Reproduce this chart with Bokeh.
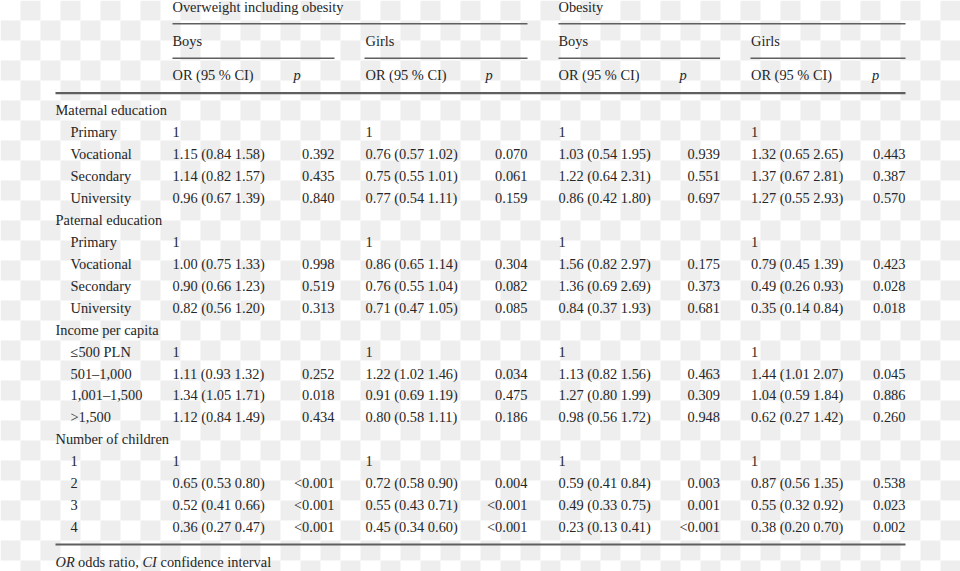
from bokeh.plotting import figure
from bokeh.models import ColumnDataSource, Range1d
from bokeh.core.properties import value
from bokeh.embed import file_html
from bokeh.resources import INLINE
import numpy as np

# ---------------- data ----------------
groups = ["Maternal education", "Paternal education", "Income per capita", "Number of children"]
levels = [
    ["Primary", "Vocational", "Secondary", "University"],
    ["Primary", "Vocational", "Secondary", "University"],
    ["\u2264500 PLN", "501\u20131,000", "1,001\u20131,500", ">1,500"],
    ["1", "2", "3", "4"],
]
outcomes = ["Overweight including obesity", "Obesity"]
sexes = ["Boys", "Girls"]
col_head_or = "OR (95 % CI)"
col_head_p = "p"

ow_boys_or = ["1", "1.15 (0.84 1.58)", "1.14 (0.82 1.57)", "0.96 (0.67 1.39)",
              "1", "1.00 (0.75 1.33)", "0.90 (0.66 1.23)", "0.82 (0.56 1.20)",
              "1", "1.11 (0.93 1.32)", "1.34 (1.05 1.71)", "1.12 (0.84 1.49)",
              "1", "0.65 (0.53 0.80)", "0.52 (0.41 0.66)", "0.36 (0.27 0.47)"]
ow_boys_p = ["", "0.392", "0.435", "0.840",
             "", "0.998", "0.519", "0.313",
             "", "0.252", "0.018", "0.434",
             "", "<0.001", "<0.001", "<0.001"]
ow_girls_or = ["1", "0.76 (0.57 1.02)", "0.75 (0.55 1.01)", "0.77 (0.54 1.11)",
               "1", "0.86 (0.65 1.14)", "0.76 (0.55 1.04)", "0.71 (0.47 1.05)",
               "1", "1.22 (1.02 1.46)", "0.91 (0.69 1.19)", "0.80 (0.58 1.11)",
               "1", "0.72 (0.58 0.90)", "0.55 (0.43 0.71)", "0.45 (0.34 0.60)"]
ow_girls_p = ["", "0.070", "0.061", "0.159",
              "", "0.304", "0.082", "0.085",
              "", "0.034", "0.475", "0.186",
              "", "0.004", "<0.001", "<0.001"]
ob_boys_or = ["1", "1.03 (0.54 1.95)", "1.22 (0.64 2.31)", "0.86 (0.42 1.80)",
              "1", "1.56 (0.82 2.97)", "1.36 (0.69 2.69)", "0.84 (0.37 1.93)",
              "1", "1.13 (0.82 1.56)", "1.27 (0.80 1.99)", "0.98 (0.56 1.72)",
              "1", "0.59 (0.41 0.84)", "0.49 (0.33 0.75)", "0.23 (0.13 0.41)"]
ob_boys_p = ["", "0.939", "0.551", "0.697",
             "", "0.175", "0.373", "0.681",
             "", "0.463", "0.309", "0.948",
             "", "0.003", "0.001", "<0.001"]
ob_girls_or = ["1", "1.32 (0.65 2.65)", "1.37 (0.67 2.81)", "1.27 (0.55 2.93)",
               "1", "0.79 (0.45 1.39)", "0.49 (0.26 0.93)", "0.35 (0.14 0.84)",
               "1", "1.44 (1.01 2.07)", "1.04 (0.59 1.84)", "0.62 (0.27 1.42)",
               "1", "0.87 (0.56 1.35)", "0.55 (0.32 0.92)", "0.38 (0.20 0.70)"]
ob_girls_p = ["", "0.443", "0.387", "0.570",
              "", "0.423", "0.028", "0.018",
              "", "0.045", "0.886", "0.260",
              "", "0.538", "0.023", "0.002"]

footnote = [("OR", "italic"), ("odds ratio,", "normal"), ("CI", "italic"), ("confidence interval", "normal")]

# ---------------- layout constants ----------------
W, H = 960, 571
FONT = value("Liberation Serif")
FS = "14.4px"
TXT = "#262626"
LINE = "#5f5f5f"
ROW0, ROWH = 109.6, 21.95
X_GROUP, X_LEVEL = 55, 70
OR_X = [172, 365, 558, 750.5]
P_RIGHT = [334, 527, 719.5, 905]
P_HEAD_X = [293, 485, 679, 871.5]
HEAD_Y = [6.5, 40.0, 74.5]
FOOT_X = [55, 77.5, 142, 160]
FOOT_Y = 561.5

p = figure(width=W, height=H, x_range=Range1d(0, W), y_range=Range1d(H, 0),
           toolbar_location=None, output_backend="svg", min_border=0,
           x_axis_location=None, y_axis_location=None,
           background_fill_color="white", border_fill_color="white",
           outline_line_color=None)
p.grid.visible = False

# checkerboard background
cols = int(np.ceil(W / 20)); rows = int(np.ceil(H / 20))
ii, jj = np.meshgrid(np.arange(cols), np.arange(rows))
mask = ((ii + jj) % 2 == 1).ravel()
li = ii.ravel()[mask] * 20; tj = jj.ravel()[mask] * 20
p.quad(left=li, right=li + 20, top=tj, bottom=tj + 20, fill_color="#eeeeee", line_color=None)

def txt(xs, ys, ts, align="left", style="normal"):
    src = ColumnDataSource(dict(x=xs, y=ys, t=ts))
    p.text(x="x", y="y", text="t", source=src, text_font=FONT, text_font_size=FS,
           text_color=TXT, text_align=align, text_baseline="alphabetic",
           text_font_style=style)

# headers
txt([OR_X[0], OR_X[2]], [HEAD_Y[0]] * 2, outcomes)
txt(OR_X, [HEAD_Y[1]] * 4, sexes * 2)
txt(OR_X, [HEAD_Y[2]] * 4, [col_head_or] * 4)
txt(P_HEAD_X, [HEAD_Y[2]] * 4, [col_head_p] * 4, style="italic")

# row labels
gx, gy, gt, lx, ly, lt = [], [], [], [], [], []
data_rows = []
r = 0
for g, lv in zip(groups, levels):
    gx.append(X_GROUP); gy.append(ROW0 + r * ROWH); gt.append(g); r += 1
    for l in lv:
        lx.append(X_LEVEL); ly.append(ROW0 + r * ROWH); lt.append(l)
        data_rows.append(ROW0 + r * ROWH); r += 1
txt(gx, gy, gt)
txt(lx, ly, lt)

# cells
for xo, xp, ors, ps in zip(OR_X, P_RIGHT,
                           [ow_boys_or, ow_girls_or, ob_boys_or, ob_girls_or],
                           [ow_boys_p, ow_girls_p, ob_boys_p, ob_girls_p]):
    txt([xo] * len(ors), data_rows, ors)
    txt([xp] * len(ps), data_rows, ps, align="right")

# rules
seg_thin = dict(x0=[OR_X[0], OR_X[2], OR_X[0], OR_X[1] - 1, OR_X[2], OR_X[3] - 0.5],
                x1=[P_RIGHT[1], P_RIGHT[3], P_RIGHT[0], P_RIGHT[1], P_RIGHT[2], P_RIGHT[3]],
                y0=[23.3, 23.3, 57.7, 57.7, 57.7, 57.7],
                y1=[23.3, 23.3, 57.7, 57.7, 57.7, 57.7])
p.segment(source=ColumnDataSource(seg_thin), x0="x0", y0="y0", x1="x1", y1="y1",
          line_color=LINE, line_width=1.6)
seg_thick = dict(x0=[X_GROUP, X_GROUP], x1=[P_RIGHT[3], P_RIGHT[3]],
                 y0=[92.7, 544], y1=[92.7, 544])
p.segment(source=ColumnDataSource(seg_thick), x0="x0", y0="y0", x1="x1", y1="y1",
          line_color=LINE, line_width=2.2)

# footnote
for (t, st), fx in zip(footnote, FOOT_X):
    txt([fx], [FOOT_Y], [t], style=st)

open("out.html", "w").write(file_html(p, INLINE))
